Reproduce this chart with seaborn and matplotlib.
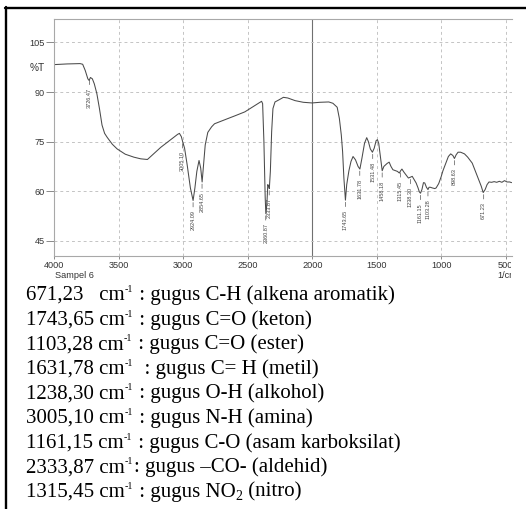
import matplotlib
matplotlib.use("Agg")
import matplotlib.pyplot as plt
import seaborn as sns
import pandas as pd
from matplotlib.lines import Line2D
from matplotlib.transforms import Bbox, TransformedBbox

# ---------------- data ----------------
wavenumber = [4000, 3900, 3800, 3780, 3760, 3740, 3730, 3720, 3705, 3690, 3670, 3650, 3630, 3610,
              3590, 3550, 3513, 3450, 3383, 3330, 3278, 3230, 3174, 3100, 3044, 3030, 3015, 3005,
              2990, 2970, 2945, 2924, 2910, 2895, 2878, 2865, 2854, 2845, 2830, 2810, 2780, 2758,
              2700, 2653, 2600, 2523, 2450, 2393, 2385, 2375, 2365, 2360, 2352, 2345, 2338, 2333,
              2325, 2315, 2305, 2289, 2260, 2224, 2190, 2133, 2070, 2002, 1940, 1872, 1840, 1807,
              1790, 1775, 1765, 1755, 1743, 1733, 1716, 1700, 1684, 1665, 1645, 1631, 1615, 1595,
              1578, 1565, 1550, 1534, 1520, 1505, 1495, 1485, 1470, 1458, 1445, 1420, 1404, 1390,
              1375, 1360, 1340, 1325, 1315, 1305, 1290, 1270, 1255, 1242, 1225, 1210, 1195, 1180,
              1170, 1161, 1150, 1138, 1128, 1115, 1103, 1095, 1085, 1070, 1050, 1040, 1020, 1000,
              987, 965, 945, 927, 910, 898, 885, 870, 850, 820, 795, 779, 760, 740, 727, 705, 690,
              675, 660, 645, 630, 610, 590, 570, 550, 530, 510, 490, 470, 455]
transmittance = [98.3, 98.5, 98.6, 98.4, 96.5, 94.0, 93.5, 94.4, 94.0, 92.5, 89.5, 85.0, 80.0, 77.5,
                 76.3, 74.2, 72.8, 71.2, 70.3, 69.8, 69.6, 71.3, 73.3, 75.5, 77.2, 77.5, 76.5, 75.0,
                 73.0, 68.0, 61.0, 57.2, 61.0, 66.0, 69.3, 67.0, 62.8, 67.0, 74.0, 77.8, 79.5, 80.4,
                 81.3, 82.0, 82.8, 84.0, 85.8, 87.2, 86.5, 75.0, 58.0, 53.2, 56.0, 62.0, 61.5, 60.8,
                 66.0, 78.0, 85.0, 87.0, 87.6, 88.4, 88.2, 87.4, 86.9, 86.7, 86.9, 87.0, 86.6, 85.4,
                 82.0, 77.0, 72.0, 64.0, 57.3, 62.0, 66.2, 69.0, 70.5, 69.5, 67.5, 66.7, 70.0, 74.5,
                 76.2, 75.0, 72.8, 71.8, 73.0, 75.3, 75.6, 74.5, 70.0, 66.2, 67.5, 68.4, 68.8, 67.5,
                 66.5, 66.3, 66.0, 65.5, 66.2, 66.7, 65.8, 64.8, 64.0, 64.2, 64.5, 63.5, 62.5, 61.0,
                 59.8, 59.4, 60.5, 62.6, 62.5, 61.2, 60.5, 61.2, 61.2, 61.0, 60.8, 61.0, 62.3, 64.5,
                 66.2, 68.5, 70.5, 71.3, 70.8, 69.9, 71.0, 71.8, 71.8, 71.3, 70.3, 69.5, 68.5, 66.5,
                 65.2, 63.0, 61.5, 59.6, 60.5, 62.0, 62.8, 62.7, 62.9, 62.7, 63.0, 62.7, 63.2, 62.8,
                 62.8, 62.6]

peak_wn = [3726.47, 3005.10, 2924.09, 2854.65, 2360.87, 2333.87, 1743.65, 1631.78, 1531.48,
           1458.18, 1315.45, 1238.30, 1161.15, 1103.28, 898.63, 671.23]
peak_T = [94.2, 75.0, 57.2, 62.8, 53.2, 60.8, 57.3, 66.7, 71.8, 66.2, 66.2, 64.2, 59.4, 60.5,
          69.9, 59.6]
peak_labels = ["3726.47", "3005.10", "2924.09", "2854.65", "2360.87", "2333.87", "1743.65",
               "1631.78", "1531.48", "1458.18", "1315.45", "1238.30", "1161.15", "1103.28",
               "898.63", "671.23"]

x_ticks = [4000, 3500, 3000, 2500, 2000, 1500, 1000, 500]
y_ticks = [45, 60, 75, 90, 105]

# note lines as segments: (text, kind) with kind n=normal, sup=superscript, sub=subscript
notes = [
    [("671,23   cm", "n"), ("-1", "sup"), (" : gugus C-H (alkena aromatik)", "n")],
    [("1743,65 cm", "n"), ("-1", "sup"), (" : gugus C=O (keton)", "n")],
    [("1103,28 cm", "n"), ("-1", "sup"), (" : gugus C=O (ester)", "n")],
    [("1631,78 cm", "n"), ("-1", "sup"), ("  : gugus C= H (metil)", "n")],
    [("1238,30 cm", "n"), ("-1", "sup"), (" : gugus O-H (alkohol)", "n")],
    [("3005,10 cm", "n"), ("-1", "sup"), (" : gugus N-H (amina)", "n")],
    [("1161,15 cm", "n"), ("-1", "sup"), (" : gugus C-O (asam karboksilat)", "n")],
    [("2333,87 cm", "n"), ("-1", "sup"), (": gugus \u2013CO- (aldehid)", "n")],
    [("1315,45 cm", "n"), ("-1", "sup"), (" : gugus NO", "n"), ("2", "sub"), (" (nitro)", "n")],
]

# ---------------- figure ----------------
sns.set_theme(style="white")
plt.rcParams["font.family"] = ["Liberation Sans", "DejaVu Sans"]

W, H = 526, 509
fig = plt.figure(figsize=(W / 100, H / 100), dpi=100)
fig.patch.set_facecolor("white")

def fx(px):
    return px / W

def fy(py):
    return 1 - py / H

ax_l, ax_r, ax_t, ax_b = 54.3, 511.7, 19.3, 255.7
ax = fig.add_axes([fx(ax_l), fy(ax_b), fx(ax_r - ax_l), (ax_b - ax_t) / H])
ax.set_facecolor("white")

df = pd.DataFrame({"wn": wavenumber, "T": transmittance})
sns.lineplot(data=df, x="wn", y="T", ax=ax, sort=False, estimator=None,
             color="#4a4a4a", linewidth=0.75)

ax.set_xlim(4000, 454)
ax.set_ylim(40.5, 112)
ax.set_xticks(x_ticks)
ax.set_yticks(y_ticks)
ax.set_xticklabels([str(t) for t in x_ticks])
ax.set_yticklabels([str(t) for t in y_ticks])
ax.set_xlabel("")
ax.set_ylabel("")

# grid
for t in x_ticks:
    if t == 2000:
        ax.axvline(t, color="#707070", lw=0.8, ls="-", zorder=0.5)
    else:
        ax.axvline(t, color="#c4c4c4", lw=0.7, ls=(0, (3, 3)), zorder=0.5)
for t in y_ticks:
    ax.axhline(t, color="#c4c4c4", lw=0.7, ls=(0, (3, 3)), zorder=0.5)

for s in ["left", "bottom", "top"]:
    ax.spines[s].set_visible(True)
    ax.spines[s].set_color("#a8a8a8")
    ax.spines[s].set_linewidth(0.8)
ax.spines["right"].set_visible(False)

ax.tick_params(axis="y", which="both", left=True, length=6, width=0.7, color="#8a8a8a",
               labelsize=6.6, labelcolor="#333333", pad=1)
ax.tick_params(axis="x", which="both", bottom=True, length=2, width=0.7, color="#8a8a8a",
               labelsize=6.6, labelcolor="#333333", pad=1.5)

# peak labels
for wn, tv, lab in zip(peak_wn, peak_T, peak_labels):
    ax.annotate(lab, xy=(wn, tv), xytext=(0, -7), textcoords="offset points",
                rotation=90, ha="center", va="top", fontsize=4, color="#444444",
                arrowprops=dict(arrowstyle="-", color="#555555", lw=0.5,
                                shrinkA=0, shrinkB=1.5))

# labels outside the axes
fig.text(fx(30), fy(67.7), "%T", fontsize=7.3, color="#333333", ha="left", va="center")
fig.text(fx(55), fy(275.8), "Sampel 6", fontsize=6.6, color="#333333", ha="left", va="center")
t1 = fig.text(fx(497), fy(275.8), "1/cm", fontsize=6.6, color="#333333", ha="left", va="center")

clip = TransformedBbox(Bbox([[0, 0], [fx(511), 1]]), fig.transFigure)
for lab in ax.get_xticklabels() + [t1]:
    lab.set_clip_box(clip)
    lab.set_clip_on(True)

# outer frame lines
fig.add_artist(Line2D([fx(4.5), 1], [fy(7.8), fy(7.8)], transform=fig.transFigure,
                      color="black", lw=1.7))
fig.add_artist(Line2D([fx(6), fx(6)], [fy(7), 0], transform=fig.transFigure,
                      color="black", lw=1.7))

# notes below (segment-wise, to get real superscripts / subscripts)
renderer = fig.canvas.get_renderer()
serif = ["Liberation Serif", "DejaVu Serif"]
base0 = 300.0
step = 24.6
styles = {"n": (15.0, 0.0), "sup": (7.2, -8.0), "sub": (10.0, 3.0)}
for i, segs in enumerate(notes):
    xpx = 26.0
    base = base0 + i * step
    for txt, kind in segs:
        size, dy = styles[kind]
        t = fig.text(fx(xpx), fy(base + dy), txt, fontsize=size, color="black",
                     family=serif, ha="left", va="baseline")
        ext = t.get_window_extent(renderer=renderer)
        xpx += ext.width + (0.6 if kind == "sup" else 0.0)

fig.savefig("out.png", dpi=100)
